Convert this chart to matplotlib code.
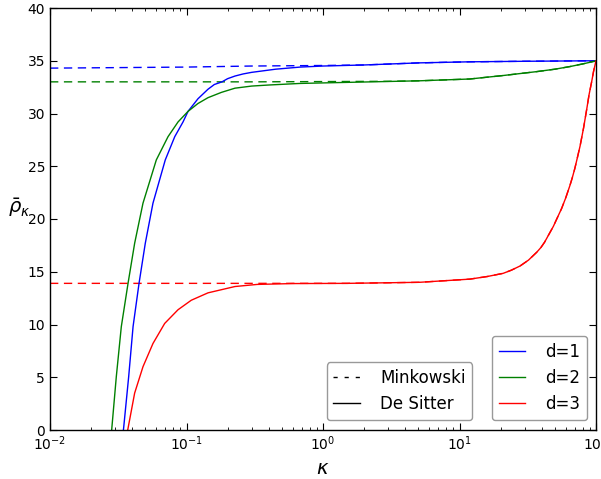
import numpy as np
import matplotlib.pyplot as plt

# valores (De Sitter, lineas continuas)
kappa_d1 = [0.0345, 0.0347, 0.0377, 0.0406, 0.0449, 0.0499, 0.0568, 0.0699, 0.0820,
            0.0943, 0.1026, 0.1214, 0.1437, 0.16, 0.182, 0.2, 0.2265, 0.26, 0.3, 0.45,
            0.68, 1.0, 2.0, 5.1, 11.9, 30, 100]
rho_d1 = [0.0, 0.3, 5.05, 9.8, 13.9, 17.7, 21.5, 25.6, 27.8,
          29.2, 30.2, 31.4, 32.3, 32.75, 33.0, 33.3, 33.55, 33.75, 33.9, 34.2,
          34.4, 34.5, 34.6, 34.8, 34.9, 34.95, 35.0]

kappa_d2 = [0.0283, 0.0306, 0.0333, 0.0373, 0.0417, 0.0480, 0.0601, 0.0732, 0.0867,
            0.1026, 0.1214, 0.1437, 0.18, 0.2265, 0.3, 0.4, 0.68, 1.5, 5.1,
            11.9, 20.9, 36.8, 50, 64.5, 80, 90, 100]
rho_d2 = [0.0, 5.05, 9.8, 13.9, 17.7, 21.5, 25.6, 27.8, 29.2,
          30.2, 30.95, 31.5, 32.0, 32.4, 32.6, 32.7, 32.85, 32.95, 33.1,
          33.27, 33.6, 33.97, 34.2, 34.45, 34.7, 34.85, 35.0]

kappa_d3 = [0.0371, 0.0417, 0.0480, 0.0568, 0.0692, 0.0867, 0.1084, 0.1437, 0.2265,
            0.33, 0.6, 1.5, 5.1, 11.9, 16, 20.9, 24, 27.8, 32, 36.8, 39.5, 42, 45,
            48.7, 52, 56, 60, 64.5, 67, 70, 73, 76.4, 81, 85.5, 89, 92.9, 96, 100]
rho_d3 = [0.0, 3.5, 6.0, 8.2, 10.1, 11.4, 12.3, 13.0, 13.6,
          13.8, 13.88, 13.9, 14.0, 14.3, 14.55, 14.85, 15.15, 15.55, 16.1, 16.85, 17.3, 17.8, 18.5,
          19.3, 20.1, 21.0, 22.0, 23.2, 23.9, 24.8, 25.8, 26.9, 28.6, 30.4, 31.8, 33.0, 34.0, 35.0]

# Minkowski (lineas discontinuas)
kappa_m1 = [0.01, 0.1, 0.3, 1.0, 2.0, 5.1, 11.9, 30, 100]
rho_m1 = [34.3, 34.4, 34.5, 34.55, 34.6, 34.8, 34.9, 34.95, 35.0]

kappa_m2 = [0.01, 0.3, 3.0, 5.1, 11.9, 20.9, 36.8, 50, 64.5, 80, 90, 100]
rho_m2 = [33.0, 33.0, 33.05, 33.1, 33.27, 33.6, 33.97, 34.2, 34.45, 34.7, 34.85, 35.0]

kappa_m3 = [0.01, 0.5, 1.5, 5.1, 11.9, 16, 20.9, 24, 27.8, 32, 36.8, 39.5, 42, 45,
            48.7, 52, 56, 60, 64.5, 67, 70, 73, 76.4, 81, 85.5, 89, 92.9, 96, 100]
rho_m3 = [13.9, 13.9, 13.9, 14.0, 14.3, 14.55, 14.85, 15.15, 15.55, 16.1, 16.85, 17.3, 17.8, 18.5,
          19.3, 20.1, 21.0, 22.0, 23.2, 23.9, 24.8, 25.8, 26.9, 28.6, 30.4, 31.8, 33.0, 34.0, 35.0]

guiones = (6, 4)

fig = plt.figure(figsize=(6.01, 4.79), dpi=100)
ax = fig.add_axes([50/601, 49/479, 546/601, 422/479])

ax.plot(kappa_m1, rho_m1, color='b', linestyle='--', dashes=guiones, linewidth=1)
ax.plot(kappa_m2, rho_m2, color='g', linestyle='--', dashes=guiones, linewidth=1)
ax.plot(kappa_m3, rho_m3, color='r', linestyle='--', dashes=guiones, linewidth=1)

l1, = ax.plot(kappa_d1, rho_d1, color='b', linewidth=1, label='d=1')
l2, = ax.plot(kappa_d2, rho_d2, color='g', linewidth=1, label='d=2')
l3, = ax.plot(kappa_d3, rho_d3, color='r', linewidth=1, label='d=3')

ax.set_xscale('log')
ax.set_xlim(1e-2, 1e2)
ax.set_ylim(0, 40)

ax.tick_params(which='both', direction='in', top=True, right=True, labelsize=10)
ax.tick_params(which='major', length=5)
ax.tick_params(which='minor', length=2.5)
for s in ax.spines.values():
    s.set_linewidth(1)

ax.set_xlabel(r'$\kappa$', fontsize=14)
ax.set_ylabel(r'$\bar{\rho}_\kappa$', fontsize=14, rotation=0, labelpad=6)

# leyenda de colores
leg1 = ax.legend(handles=[l1, l2, l3], loc='lower right', bbox_to_anchor=(0.9835, 0.0237),
                 borderaxespad=0, fontsize=12, handlelength=1.6, handletextpad=1.2,
                 fancybox=True, edgecolor='0.6', framealpha=1)
ax.add_artist(leg1)

# leyenda de estilos
h1, = ax.plot([], [], color='k', linestyle='--', dashes=(3, 5), linewidth=1, label='Minkowski')
h2, = ax.plot([], [], color='k', linewidth=1, label='De Sitter')
ax.legend(handles=[h1, h2], loc='lower right', bbox_to_anchor=(0.773, 0.0237),
          borderaxespad=0, fontsize=12, handlelength=1.6, handletextpad=1.2,
          fancybox=True, edgecolor='0.6', framealpha=1)

plt.savefig('out.png', dpi=100)
